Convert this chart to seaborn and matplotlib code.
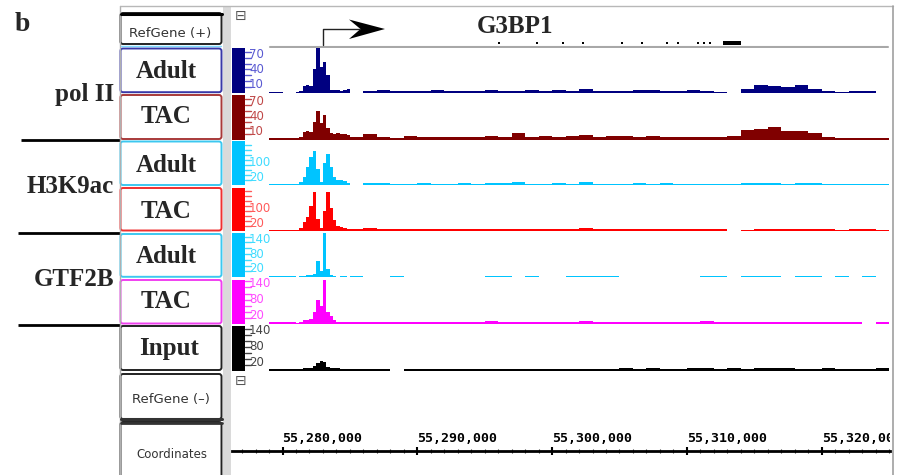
import numpy as np
import pandas as pd
import seaborn as sns
import matplotlib.pyplot as plt
from matplotlib.patches import FancyBboxPatch, Rectangle, Polygon
from matplotlib.ticker import MultipleLocator, FuncFormatter
from matplotlib.transforms import (Bbox, TransformedBbox, blended_transform_factory,
                                   offset_copy)

# ---- data -------------------------------------------------------------
view_start = 55_276_250
view_end = 55_325_070

# 1 kb bins outside the promoter, 250 bp bins across it
bin_edges = np.concatenate([np.arange(55_276_000, 55_281_000, 1000),
                            np.arange(55_281_000, 55_285_000, 250),
                            np.arange(55_285_000, 55_325_001, 1000)])

polII_adult = [0, 0, 0, 2, 0,
               1, 3, 12, 14, 12, 40, 77, 44, 53, 30, 5, 4, 4, 3, 4, 7,
               0, 3, 4, 3, 3, 3, 4, 3, 3, 3, 4, 3, 3, 4, 3, 4, 3, 6, 3, 3,
               3, 5, 4, 3, 3, 4, 3, 2, 0, 6, 14, 11, 9, 13, 7, 3, 2, 3, 3, 0]
polII_tac = [0, 0, 0, 2, 2,
             2, 4, 13, 14, 13, 30, 49, 28, 42, 20, 12, 10, 11, 9, 9, 7,
             4, 9, 5, 3, 6, 4, 5, 4, 5, 4, 6, 5, 12, 5, 6, 5, 6, 8, 5, 6,
             6, 5, 6, 4, 5, 5, 4, 5, 6, 17, 19, 22, 15, 15, 12, 4, 3, 3, 2, 3]
h3k9ac_adult = [0, 0, 0, 5, 7,
                4, 12, 35, 75, 115, 138, 64, 14, 88, 126, 72, 35, 22, 20, 16, 10,
                0, 9, 11, 7, 7, 8, 6, 7, 11, 7, 11, 8, 12, 7, 7, 8, 7, 13, 7, 7,
                7, 10, 7, 10, 7, 7, 7, 5, 7, 9, 10, 8, 7, 8, 10, 7, 5, 7, 5, 7]
h3k9ac_tac = [0, 0, 0, 5, 6,
              4, 12, 36, 56, 100, 158, 48, 12, 80, 155, 92, 44, 19, 17, 14, 9,
              9, 11, 9, 7, 7, 8, 7, 8, 7, 8, 7, 8, 7, 7, 8, 7, 7, 11, 7, 7,
              8, 8, 10, 9, 8, 7, 9, 7, 0, 5, 8, 7, 7, 7, 7, 7, 5, 7, 7, 5]
gtf2b_adult = [0, 0, 0, 6, 5,
               0, 5, 6, 7, 9, 12, 55, 20, 160, 30, 8, 5, 0, 5, 5, 0,
               6, 0, 0, 6, 0, 0, 0, 0, 0, 0, 6, 6, 0, 6, 0, 0, 6, 4, 6, 6,
               0, 0, 0, 0, 0, 0, 6, 6, 0, 6, 6, 6, 0, 6, 6, 0, 6, 0, 6, 0]
gtf2b_tac = [0, 0, 0, 5, 6,
             4, 8, 12, 13, 15, 40, 80, 58, 160, 38, 25, 12, 8, 7, 5, 6,
             6, 6, 6, 6, 5, 6, 6, 6, 6, 6, 9, 6, 5, 6, 6, 6, 6, 9, 6, 6,
             6, 8, 6, 6, 6, 6, 9, 6, 6, 6, 6, 6, 6, 6, 6, 6, 5, 6, 0, 5]
input_dna = [0, 0, 0, 5, 6,
             5, 6, 7, 8, 9, 14, 25, 33, 30, 12, 10, 8, 7, 6, 6, 6,
             6, 6, 6, 0, 6, 5, 6, 6, 5, 6, 6, 5, 6, 6, 6, 5, 6, 6, 6, 6,
             8, 6, 8, 6, 6, 8, 8, 6, 8, 6, 8, 8, 8, 6, 6, 8, 6, 6, 6, 8]

# G3BP1 gene model (+ strand)
tss = 55_283_000
exon_starts = [55_295_950, 55_298_820, 55_300_750, 55_302_230, 55_305_100, 55_306_590,
               55_308_440, 55_309_300, 55_310_780, 55_311_160, 55_311_660, 55_312_650]
exon_ends = [55_296_100, 55_298_970, 55_300_900, 55_302_380, 55_305_250, 55_306_740,
             55_308_590, 55_309_450, 55_310_930, 55_311_310, 55_311_810, 55_313_990]

group_names = ["pol II", "H3K9ac", "GTF2B"]
coord_ticks = [55_280_000, 55_290_000, 55_300_000, 55_310_000, 55_320_000]

# ---- style / layout ----------------------------------------------------
sns.set_theme(style="white")
plt.rcParams["font.family"] = ["DejaVu Sans"]
SERIF = "Liberation Serif"

tracks = [
    dict(vals=polII_adult, name="Adult", c="#000080", lc="#5a5ad2", ec="#3838a8",
         top=48, base=92.7, ymax=77, step=10, labels=[70, 40, 10]),
    dict(vals=polII_tac, name="TAC", c="#800000", lc="#c04848", ec="#a83a3a",
         top=94.5, base=139.5, ymax=78.5, step=10, labels=[70, 40, 10]),
    dict(vals=h3k9ac_adult, name="Adult", c="#00c4ff", lc="#3fdcff", ec="#3cc8f0",
         top=141, base=185.5, ymax=178, step=20, labels=[100, 20]),
    dict(vals=h3k9ac_tac, name="TAC", c="#ff0000", lc="#ff5a5a", ec="#f03030",
         top=187.5, base=231, ymax=174, step=20, labels=[100, 20]),
    dict(vals=gtf2b_adult, name="Adult", c="#00c4ff", lc="#3fdcff", ec="#3cc8f0",
         top=233.5, base=277.3, ymax=151, step=20, labels=[140, 80, 20]),
    dict(vals=gtf2b_tac, name="TAC", c="#ff00ff", lc="#ff4cff", ec="#f040f0",
         top=279.5, base=324, ymax=146, step=20, labels=[140, 80, 20]),
    dict(vals=input_dna, name="Input", c="#000000", lc="#444444", ec="#222222",
         top=325.5, base=370.5, ymax=150, step=20, labels=[140, 80, 20]),
]

W, H = 900, 475
fig = plt.figure(figsize=(9, 4.75), dpi=100)


def px_axes(x0, y0, x1, y1):
    ax = fig.add_axes([x0 / W, 1 - y1 / H, (x1 - x0) / W, (y1 - y0) / H])
    ax.set_facecolor("none")
    return ax


# overlay in pixel units for the panel furniture
ov = px_axes(0, 0, W, H)
ov.set_xlim(0, W)
ov.set_ylim(H, 0)
ov.set_axis_off()

ov.text(15, 31, "b", fontsize=20, fontweight="bold", family=SERIF)
for name, yb in zip(group_names, [101.5, 193, 286.5]):
    ov.text(114, yb, name, fontsize=18, fontweight="bold", family=SERIF,
            ha="right", va="baseline")
for y, x0 in [(140, 21), (232.5, 18), (324.5, 18)]:
    ov.plot([x0, 120], [y, y], color="black", lw=2, solid_capstyle="butt")

# frame
ov.plot([119.5, 119.5], [6, H], color="#b0b0b0", lw=1)
ov.plot([119.5, 893], [6, 6], color="#b8b8b8", lw=1)
ov.plot([893, 893], [6, H], color="#a0a0a0", lw=1.2)
ov.add_patch(Rectangle((222.5, 6), 8, H - 6, color="#dadada", lw=0))


def name_box(y0, y1, ec, lw=1.4):
    ov.add_patch(FancyBboxPatch((120.5, y0), 101, y1 - y0,
                                boxstyle="round,pad=0,rounding_size=2.5",
                                fc="white", ec=ec, lw=lw))


name_box(13, 44, "#222222")
ov.plot([120.5, 221.5], [13.5, 13.5], color="black", lw=2.2)
ov.plot([121, 221], [45.8, 45.8], color="#7fdcff", lw=1)
ov.text(170.5, 33, "RefGene (+)", fontsize=9.5, color="#333333", ha="center", va="center")

text_base = [78.3, 123.3, 171.7, 218.3, 263.3, 308.3, 354.5]
for t, yb in zip(tracks, text_base):
    name_box(t["top"] + 0.5, t["base"] - 0.5, t["ec"])
    ov.text(166 if t["name"] != "Input" else 169.5, yb, t["name"], fontsize=18,
            fontweight="bold", family=SERIF, ha="center", va="baseline")

name_box(374, 419, "#222222")
ov.plot([120.5, 221.5], [418.5, 418.5], color="#333333", lw=2.2)
ov.text(171, 400, "RefGene (\u2013)", fontsize=9.5, color="#333333", ha="center", va="center")
name_box(422, 482, "#222222")
ov.plot([120.5, 221.5], [422.5, 422.5], color="#333333", lw=2)
ov.text(171.5, 454, "Coordinates", fontsize=8.5, color="#333333", ha="center", va="center")

ov.text(241, 16, "\u229f", fontsize=10, color="#555555", ha="center", va="center")
ov.text(241, 381, "\u229f", fontsize=10, color="#555555", ha="center", va="center")
ov.text(515, 33, "G3BP1", fontsize=18, fontweight="bold", family=SERIF,
        ha="center", va="baseline")

# ---- gene track ---------------------------------------------------------
gx = px_axes(232, 6, 890, 48)
gx.set_xlim(view_start, view_end)
gx.set_ylim(48, 6)
gx.set_axis_off()
gx.axhline(46.5, xmin=(270 - 232) / 658, xmax=(888 - 232) / 658, color="#a8a8a8", lw=1.5)
for s, e in zip(exon_starts, exon_ends):
    h = 3.5 if e - s > 500 else 2.2
    gx.add_patch(Rectangle((s, 43 - h / 2), e - s, h, color="black", lw=0))
gx.plot([tss, tss, tss + 2780], [44.5, 29, 29], color="#222222", lw=1)
gx.add_patch(Polygon([(tss + 4600, 29), (tss + 1930, 19.5),
                      (tss + 2780, 29), (tss + 1930, 39)], closed=True,
                     color="black", lw=0))

# ---- signal tracks ------------------------------------------------------
centers = (bin_edges[:-1] + bin_edges[1:]) / 2
bar_w = 13 / 658
for t in tracks:
    ax = px_axes(232, t["top"], 890, t["base"])
    df = pd.DataFrame({"pos": centers, "signal": t["vals"]})
    sns.histplot(data=df, x="pos", weights="signal", bins=list(bin_edges), stat="count",
                 element="step", fill=True, color=t["c"], alpha=1, linewidth=0, ax=ax)
    ax.set_xlim(view_start, view_end)
    ax.set_ylim(0, t["ymax"])
    ax.set_axis_off()
    ax.add_patch(Rectangle((0, 0), bar_w, 1, transform=ax.transAxes,
                           color=t["c"], lw=0, clip_on=False))
    tr = blended_transform_factory(ax.transAxes, ax.transData)
    for v in np.arange(t["step"], t["ymax"], t["step"]):
        ax.plot([bar_w, bar_w + 6 / 658], [v, v], transform=tr, color=t["lc"],
                lw=1, clip_on=False)
    hi, lo = max(t["labels"]), min(t["labels"])
    for v in t["labels"]:
        nudge = -1.8 if v == hi else (1.8 if v == lo else 0)
        ax.text(bar_w + 4 / 658, v, str(v),
                transform=offset_copy(tr, fig=fig, y=nudge, units="points"),
                color=t["lc"], fontsize=8.5, ha="left", va="center", clip_on=False)

# ---- coordinate ruler ---------------------------------------------------
cx = px_axes(232, 451, 890, 472)
cx.set_xlim(view_start, view_end)
cx.set_ylim(0, 1)
for side in ["left", "right", "bottom"]:
    cx.spines[side].set_visible(False)
cx.spines["top"].set_linewidth(2)
cx.spines["top"].set_color("black")
cx.xaxis.set_ticks_position("top")
cx.set_yticks([])
cx.set_xticks(coord_ticks)
cx.xaxis.set_minor_locator(MultipleLocator(1000))
cx.xaxis.set_major_formatter(FuncFormatter(lambda v, p: f"{int(v):,}"))
cx.tick_params(axis="x", which="major", direction="inout", length=6, width=1.5,
               pad=1, labelsize=9.5, colors="black")
cx.tick_params(axis="x", which="minor", direction="inout", length=3, width=0.8,
               colors="#333333")
clip = TransformedBbox(Bbox([[0, 0], [890 / W, 1]]), fig.transFigure)
for lbl in cx.get_xticklabels():
    lbl.set_ha("left")
    lbl.set_family("DejaVu Sans Mono")
    lbl.set_fontweight("bold")
    lbl.set_clip_box(clip)
    lbl.set_clip_on(True)

fig.savefig("out.png", dpi=100)
